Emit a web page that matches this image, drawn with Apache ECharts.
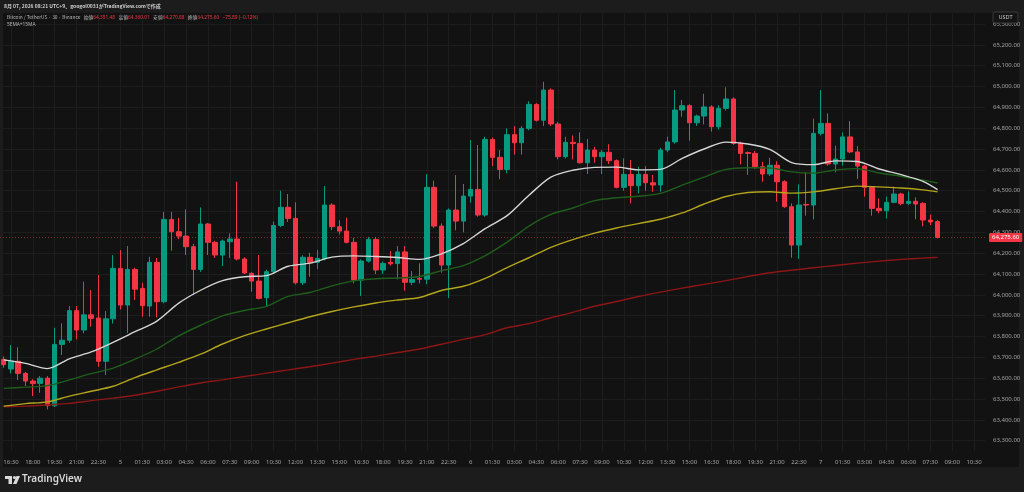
<!DOCTYPE html>
<html><head><meta charset="utf-8">
<script src="https://cdn.jsdelivr.net/npm/echarts@6/dist/echarts.min.js"></script>
<style>html,body{margin:0;padding:0;background:#1c1c1c}#c{width:1024px;height:492px}</style>
</head><body><div id="c"></div>
<script>
// ---- data (30-minute candles, Aug 4 16:00 -> Aug 7 08:00, UTC+9) ----
const opens  = [63690,63644,63681,63623,63586,63575,63600,63468,63762,63782,63924,63831,63904,63889,63681,63885,64127,63951,64122,64031,63946,64156,63967,64362,64303,64282,64231,64122,64340,64252,64191,64255,64268,64172,64103,64066,63986,64111,64333,64420,64367,64058,64180,64156,64175,64431,64327,64306,64252,64071,64162,64266,64119,64156,64150,64206,64060,64079,64075,64516,64330,64143,64407,64354,64474,64506,64383,64746,64660,64602,64769,64730,64799,64914,64838,64983,64820,64663,64732,64727,64634,64695,64663,64684,64644,64516,64578,64524,64578,64538,64527,64695,64734,64887,64908,64826,64858,64902,64807,64895,64940,64727,64683,64679,64615,64580,64622,64543,64423,64239,64434,64431,64775,64823,64628,64652,64758,64686,64618,64516,64415,64404,64444,64484,64439,64449,64439,64359,64351.48];
const closes = [63665,63681,63623,63586,63574,63600,63468,63762,63782,63924,63831,63904,63887,63681,63885,64127,63951,64122,64027,63948,64156,63967,64362,64303,64282,64231,64122,64340,64252,64191,64258,64268,64172,64105,64066,63983,64111,64333,64420,64367,64058,64180,64156,64175,64431,64327,64306,64252,64071,64162,64266,64119,64151,64149,64206,64060,64074,64075,64516,64330,64143,64407,64354,64474,64506,64383,64746,64660,64602,64769,64730,64799,64914,64838,64983,64820,64663,64732,64726,64634,64695,64663,64684,64644,64516,64578,64524,64578,64538,64527,64695,64734,64887,64908,64826,64858,64902,64807,64895,64940,64727,64679,64679,64615,64580,64622,64543,64423,64239,64431,64431,64775,64823,64628,64652,64758,64686,64618,64516,64415,64404,64444,64484,64439,64449,64436,64359,64350,64275.60];
const lows   = [63650,63623,63591,63562,63514,63530,63450,63462,63711,63770,63786,63815,63847,63655,63615,63862,63930,63817,63975,63895,63895,63892,63960,64212,64267,64191,63999,64110,64191,64177,64138,64177,64165,64100,64015,63978,63946,64100,64325,64350,64050,64047,64087,64123,64165,64311,64290,64247,64055,63994,64155,64100,64100,64140,64074,64020,64046,64055,64051,64320,64106,63985,64310,64300,64442,64375,64375,64618,64555,64583,64673,64673,64790,64832,64810,64810,64650,64655,64650,64630,64580,64634,64580,64628,64511,64500,64439,64487,64500,64495,64495,64685,64725,64855,64740,64811,64818,64783,64793,64885,64720,64626,64576,64605,64543,64570,64447,64418,64178,64172,64380,64362,64765,64620,64588,64620,64680,64556,64471,64380,64391,64366,64440,64430,64430,64363,64329,64335,64270.88];
const highs  = [63705,63759,63748,63630,63595,63610,63610,63842,63863,63946,63946,64063,64023,64095,63922,64191,64215,64234,64130,64058,64183,64177,64398,64398,64369,64410,64245,64420,64345,64260,64265,64295,64543,64180,64110,64191,64120,64352,64500,64484,64444,64190,64202,64215,64522,64440,64358,64370,64274,64170,64278,64278,64160,64210,64234,64234,64114,64151,64579,64548,64343,64415,64575,64532,64743,64719,64759,64755,64695,64799,64810,64810,64929,64920,65023,64991,64830,64759,64765,64780,64748,64710,64695,64723,64650,64655,64647,64615,64618,64575,64706,64759,64983,64935,64915,64865,64965,64910,64910,64996,64948,64735,64688,64690,64639,64658,64641,64550,64439,64530,64588,64846,64983,64871,64716,64780,64834,64714,64625,64520,64463,64472,64520,64490,64497,64468,64445,64385,64360.01];

// moving-average lines, read at these candle positions
const maIdx   = [0,3,6,9,12,15,18,21,24,27,30,33,36,39,42,45,48,51,54,57,60,63,66,69,72,75,78,81,84,87,90,93,96,99,102,105,108,111,114,117,120,123,126,128];
const maWhite = [63688,63671,63646,63693,63726,63772,63823,63874,63960,64022,64068,64087,64092,64137,64152,64181,64187,64184,64179,64170,64197,64246,64318,64380,64478,64565,64598,64612,64613,64600,64602,64655,64700,64733,64724,64698,64635,64625,64643,64640,64604,64577,64545,64505];
const maGreen = [63551,63557,63564,63592,63622,63648,63691,63740,63803,63854,63899,63925,63945,63993,64011,64043,64067,64077,64081,64088,64116,64140,64188,64253,64330,64386,64417,64452,64466,64473,64487,64527,64565,64602,64610,64609,64590,64584,64599,64606,64585,64569,64550,64537];
const maYellow= [63466,63478,63486,63514,63537,63561,63603,63640,63676,63715,63764,63804,63836,63866,63895,63920,63942,63961,63975,63987,64021,64041,64079,64131,64178,64228,64265,64296,64321,64342,64363,64393,64436,64472,64491,64495,64488,64494,64509,64522,64518,64513,64504,64494];
const maRed   = [63463,63466,63472,63479,63492,63504,63518,63537,63558,63577,63592,63608,63624,63640,63655,63672,63690,63706,63723,63740,63763,63786,63809,63842,63862,63890,63916,63945,63968,63992,64013,64032,64050,64068,64088,64106,64118,64130,64141,64152,64162,64170,64176,64180];

// time categories: 135 half-hour slots starting Aug 4 16:00
const startDay = 4, startMin = 16*60, slotCount = 135;
const categories = [];
for (let i = 0; i < slotCount; i++) {
  const m = startMin + i*30;
  const d = startDay + Math.floor(m/1440);
  const mm = m % 1440;
  const hh = String(Math.floor(mm/60)).padStart(2,'0');
  const mi = String(mm%60).padStart(2,'0');
  categories.push(d + ' ' + hh + ':' + mi);
}
const tickStart = 1, tickEvery = 3;

const yMin = 63200, yMax = 65400, yStep = 100;
const fmt = v => v.toLocaleString('en-US',{minimumFractionDigits:2,maximumFractionDigits:2});

const last = opens.length - 1;
const lastO = opens[last], lastH = highs[last], lastL = lows[last], lastC = closes[last];
const changeTxt = '−75.89 (−0.12%)';

const UP = '#089981', DOWN = '#f23645';

const chart = echarts.init(document.getElementById('c'));

const verticals = [];
for (let i = tickStart; i < slotCount; i += tickEvery) {
  verticals.push([{coord:[categories[i], 65350]},{coord:[categories[i], 63250]}]);
}
const tickCount = Math.round((yMax - yMin)/yStep) + 1;
const splitColors = [];
for (let k = 0; k < tickCount; k++) splitColors.push(k === 0 || k === tickCount-1 ? 'rgba(0,0,0,0)' : '#1d1d1d');

function maSeries(vals, color){
  return {type:'line', data: maIdx.map((x,k)=>[x, vals[k]]), showSymbol:false, smooth:0.3,
    lineStyle:{color, width:1.4}, silent:true, z:5, animation:false};
}

const legendTxt = '{a|Bitcoin / TetherUS · 30 · Binance} {a|始値}{r|' + fmt(lastO) + '} {a|高値}{r|' + fmt(lastH) +
  '} {a|安値}{r|' + fmt(lastL) + '} {a|終値}{r|' + fmt(lastC) + '} {r|' + changeTxt + '}';

chart.setOption({
  backgroundColor:'#1c1c1c',
  animation:false,
  grid:{left:-2, right:39, top:3.17, bottom:30.5, containLabel:false},
  xAxis:{type:'category', data:categories, boundaryGap:true,
    axisLine:{show:false}, axisTick:{show:false}, splitLine:{show:false},
    axisLabel:{interval:(i)=> (i - tickStart) % tickEvery === 0, margin:1, verticalAlign:'middle',
      color:'#a3a3a3', fontSize:6, fontFamily:'Noto Sans',
      formatter:(v)=>{ const p=v.split(' '); return p[1]==='00:00' ? p[0] : p[1]; }}},
  yAxis:{type:'value', position:'right', min:yMin, max:yMax, interval:yStep, scale:true,
    axisLine:{show:false}, axisTick:{show:false},
    splitLine:{show:true, lineStyle:{color:splitColors, width:1}},
    axisLabel:{margin:8, color:'#a3a3a3', fontSize:6, fontFamily:'Noto Sans', showMinLabel:false, showMaxLabel:false,
      formatter:(v)=>fmt(v)}},
  graphic:[
    {type:'rect', z:-10, silent:true, shape:{x:3, y:13, width:1016, height:454}, style:{fill:'#121212'}},
    {type:'text', x:4, y:6.5, z:50, style:{text:'8月 07, 2026 08:21 UTC+9、googol0031がTradingView.comで作成', fill:'#d0d0d0', font:'600 5px "Noto Sans CJK JP"', verticalAlign:'middle'}},
    {type:'text', x:7, y:17.5, z:50, style:{verticalAlign:'middle', rich:{a:{fill:'#b8b8b8', font:'4.8px "Noto Sans CJK JP"', lineHeight:6}, r:{fill:'#f23645', font:'4.8px "Noto Sans"', lineHeight:6}}, text:legendTxt}},
    {type:'text', x:7, y:24.5, z:50, style:{text:'5EMA+15MA', fill:'#b8b8b8', font:'4.8px "Noto Sans"', verticalAlign:'middle'}},
    {type:'rect', z:60, shape:{x:993, y:12, width:25, height:11, r:2}, style:{fill:'#141414', stroke:'#3a3a3a', lineWidth:1}},
    {type:'text', z:61, x:1005.5, y:17.5, style:{text:'USDT', fill:'#c8c8c8', font:'5.5px "Noto Sans"', align:'center', verticalAlign:'middle'}},
    {type:'rect', z:50, shape:{x:5, y:476, width:7, height:3}, style:{fill:'#d8d8d8'}},
    {type:'rect', z:50, shape:{x:8.5, y:476, width:3.5, height:8}, style:{fill:'#d8d8d8'}},
    {type:'circle', z:50, shape:{cx:14.5, cy:477.5, r:1.6}, style:{fill:'#d8d8d8'}},
    {type:'polygon', z:50, shape:{points:[[16.5,476],[20,476],[16.5,484],[13,484]]}, style:{fill:'#d8d8d8'}},
    {type:'text', left:22, top:474, z:50, style:{text:'TradingView', fill:'#d8d8d8', font:'600 10px "Noto Sans"'}}
  ],
  series:[
    {type:'candlestick', barWidth:5, z:4,
      data: opens.map((o,i)=>[o, closes[i], lows[i], highs[i]]),
      itemStyle:{color:UP, color0:DOWN, borderColor:UP, borderColor0:DOWN, borderWidth:1},
      markLine:{silent:true, symbol:['none','none'], animation:false, z:1,
        data: verticals.map(v=>[Object.assign({lineStyle:{color:'#1d1d1d', width:1, type:'solid'}, label:{show:false}}, v[0]), v[1]]).concat([
          {yAxis:lastC, lineStyle:{color:'#7d2730', width:1, type:[1,2], opacity:1},
           label:{show:true, position:'end', distance:4, formatter:fmt(lastC), backgroundColor:'#f23645', color:'#ffffff',
             fontSize:6, fontFamily:'Noto Sans', padding:[2,3,1,3], borderRadius:1}}
        ])}
    },
    maSeries(maRed,'#8e1616'),
    maSeries(maYellow,'#b3a51c'),
    maSeries(maGreen,'#1f5f1c'),
    maSeries(maWhite,'#d6d6d6')
  ]
});
</script></body></html>
